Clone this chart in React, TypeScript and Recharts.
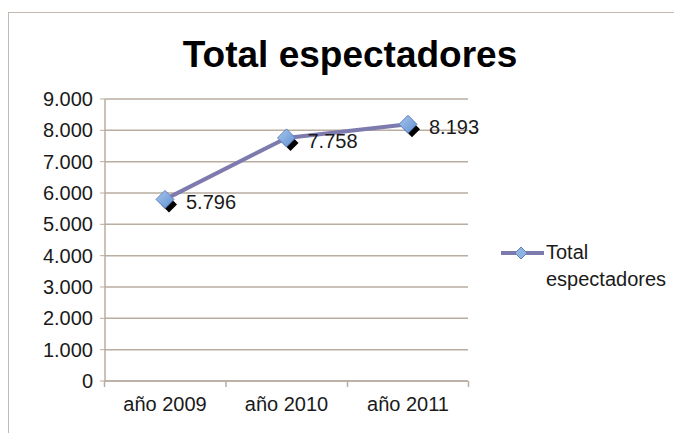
import React from "react";
import { LineChart, Line, XAxis, YAxis, CartesianGrid, LabelList, Legend } from "recharts";

const years = ["año 2009", "año 2010", "año 2011"];
const espectadores = [5796, 7758, 8193];
const yTicks = [0, 1000, 2000, 3000, 4000, 5000, 6000, 7000, 8000, 9000];

const data = years.map((year, i) => ({ year, total: espectadores[i] }));

const FONT = '"Liberation Sans", Arial, sans-serif';
const GRID = "#b9aca1";
const LINE = "#7d7aae";
const X_MARGIN = 16;

const fmt = (v: number) => String(v).replace(/\B(?=(\d{3})+(?!\d))/g, ".");

const diamond = (cx: number, cy: number, r: number) =>
  `M${cx},${cy - r} L${cx + r},${cy} L${cx},${cy + r} L${cx - r},${cy} Z`;

function Marker(props: any) {
  const { cx, cy } = props;
  if (cx == null || cy == null) return null;
  return (
    <g>
      <path d={diamond(cx + 4, cy + 5, 8)} fill="#000" />
      <path d={diamond(cx, cy, 9)} fill="url(#mkFill)" stroke="#5f82bd" strokeWidth={1} />
    </g>
  );
}

function ValueLabel(props: any) {
  const { x, y, value } = props;
  return (
    <text x={x + 21} y={y + 3} fontSize={20} fontFamily={FONT} fill="#1a1a1a" dominantBaseline="central">
      {fmt(value)}
    </text>
  );
}

// category label plus the tick marks on the category boundaries (Excel style)
function YearTick(props: any) {
  const { x, y, payload, index, width, visibleTicksCount } = props;
  const half = width / (2 * visibleTicksCount);
  const axisY = y - X_MARGIN;
  const isLast = index === visibleTicksCount - 1;
  return (
    <g>
      <line x1={x - half} y1={axisY} x2={x - half} y2={axisY + 6} stroke={GRID} strokeWidth={1.5} />
      {isLast && <line x1={x + half} y1={axisY} x2={x + half} y2={axisY + 6} stroke={GRID} strokeWidth={1.5} />}
      <text x={x} y={y} dy="0.71em" textAnchor="middle" fontSize={20} fontFamily={FONT} fill="#1a1a1a">
        {payload.value}
      </text>
    </g>
  );
}

function LegendContent() {
  return (
    <div style={{ display: "flex", alignItems: "flex-start", fontFamily: FONT, fontSize: 20, color: "#1a1a1a" }}>
      <svg width={53} height={27} style={{ flex: "none" }}>
        <line x1={8} y1={14} x2={51} y2={14} stroke={LINE} strokeWidth={4} />
        <path d={diamond(28, 14, 6)} fill="#8fb3e0" stroke="#5f82bd" />
      </svg>
      <div style={{ lineHeight: "27px", width: 135 }}>
        Total
        <br />
        espectadores
      </div>
    </div>
  );
}

export default function App() {
  return (
    <div style={{ position: "relative", width: 674, height: 433, marginBottom: -8, overflow: "hidden", background: "#fff" }}>
      <div
        style={{
          position: "absolute",
          left: 0,
          top: 4,
          width: 720,
          height: 480,
          borderLeft: "1px solid #c4b8b0",
          borderTop: "1px solid #c4b8b0",
        }}
      />
      <div
        style={{
          position: "absolute",
          left: 0,
          top: 27,
          width: 684,
          textAlign: "center",
          fontFamily: FONT,
          fontWeight: 700,
          fontSize: 37,
          lineHeight: "40px",
          color: "#000",
        }}
      >
        Total espectadores
      </div>
      <div style={{ position: "absolute", left: 0, top: 0 }}>
        <LineChart width={674} height={433} data={data} margin={{ top: 91, right: 214, bottom: 26, left: 35 }}>
          <defs>
            <linearGradient id="mkFill" x1="0" y1="0" x2="1" y2="1">
              <stop offset="0%" stopColor="#a9c8ef" />
              <stop offset="100%" stopColor="#5f8fcf" />
            </linearGradient>
          </defs>
          <CartesianGrid horizontal vertical={false} stroke={GRID} strokeWidth={1.5} />
          <XAxis
            dataKey="year"
            padding={{ left: 60, right: 60 }}
            tickLine={false}
            tickSize={0}
            tickMargin={X_MARGIN}
            interval={0}
            axisLine={{ stroke: GRID, strokeWidth: 1.5 }}
            tick={<YearTick />}
            height={34}
          />
          <YAxis
            domain={[0, 9000]}
            ticks={yTicks}
            tickFormatter={fmt}
            width={62}
            tickSize={5}
            tickMargin={7}
            axisLine={{ stroke: GRID, strokeWidth: 1.5 }}
            tickLine={{ stroke: GRID }}
            tick={{ fontSize: 20, fontFamily: FONT, fill: "#1a1a1a" }}
            interval={0}
          />
          <Legend
            layout="horizontal"
            verticalAlign="middle"
            align="center"
            content={<LegendContent />}
            wrapperStyle={{ position: "absolute", left: 485, top: 231, width: 190 }}
          />
          <Line
            dataKey="total"
            name="Total espectadores"
            stroke={LINE}
            strokeWidth={4}
            dot={<Marker />}
            activeDot={false}
            isAnimationActive={false}
          >
            <LabelList dataKey="total" content={<ValueLabel />} />
          </Line>
        </LineChart>
      </div>
    </div>
  );
}
